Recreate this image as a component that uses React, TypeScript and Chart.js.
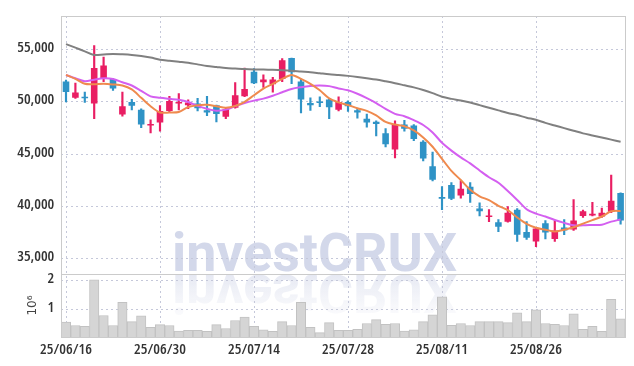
import { useEffect, useRef } from 'react';
import { Chart, registerables } from 'chart.js';

Chart.register(...registerables);

const dates = [
  '25/06/16','25/06/17','25/06/18','25/06/19','25/06/20','25/06/23','25/06/24','25/06/25','25/06/26','25/06/27',
  '25/06/30','25/07/01','25/07/02','25/07/03','25/07/04','25/07/07','25/07/08','25/07/09','25/07/10','25/07/11',
  '25/07/14','25/07/15','25/07/16','25/07/17','25/07/18','25/07/21','25/07/22','25/07/23','25/07/24','25/07/25',
  '25/07/28','25/07/29','25/07/30','25/07/31','25/08/01','25/08/04','25/08/05','25/08/06','25/08/07','25/08/08',
  '25/08/11','25/08/12','25/08/13','25/08/14','25/08/18','25/08/19','25/08/20','25/08/21','25/08/22','25/08/25',
  '25/08/26','25/08/27','25/08/28','25/08/29','25/09/01','25/09/02','25/09/03','25/09/04','25/09/05','25/09/08',
];

const opens = [
  51950, 50400, 50450, 49850, 52250, 52200, 48800, 50000, 49250, 47750,
  48050, 49150, 49850, 49700, 49850, 49200, 49700, 48600, 49450, 50550,
  52900, 51900, 51700, 52200, 54200, 51950, 49900, 50000, 50250, 49250,
  50000, 49200, 48400, 48100, 47000, 45450, 47850, 47750, 46200, 43850,
  40900, 42050, 41050, 41900, 39800, 39000, 38500, 38550, 39700, 37550,
  36650, 38400, 36900, 38000, 37800, 39100, 39150, 39050, 39500, 41300,
];
const closes = [
  50950, 50900, 50350, 53250, 53500, 51300, 49600, 49650, 47850, 47850,
  49150, 50100, 49950, 49950, 49400, 49000, 48850, 49300, 50650, 51250,
  51800, 52150, 52150, 54000, 52850, 50250, 49700, 49900, 49500, 50000,
  49600, 49000, 48050, 47900, 45950, 47850, 47450, 46450, 44600, 42550,
  40750, 40750, 41700, 41200, 39550, 39150, 38050, 39400, 37300, 37000,
  37900, 37500, 37700, 37700, 38650, 39550, 39300, 39400, 40550, 38650,
];
const highs = [
  52100, 51800, 50950, 55400, 54300, 52250, 50950, 50250, 49350, 48300,
  49650, 50550, 50800, 50200, 50350, 50550, 49700, 49400, 51850, 53250,
  53200, 52600, 52350, 54150, 54200, 52200, 50400, 50500, 50350, 50500,
  50100, 49400, 48850, 48200, 47450, 48200, 48250, 47850, 46300, 45200,
  41900, 42300, 42450, 42300, 40350, 39700, 38750, 40000, 39800, 38550,
  38000, 38650, 38650, 38750, 40650, 39650, 40400, 39850, 43000, 41300,
];
const lows = [
  50000, 50350, 49950, 48400, 51950, 51100, 48650, 49250, 47550, 47050,
  47200, 49050, 49250, 49350, 49150, 48700, 48100, 48400, 49400, 50500,
  51750, 51400, 50950, 51950, 51750, 48950, 49200, 49550, 48400, 49150,
  49100, 48450, 47600, 46750, 45700, 44650, 47200, 46300, 44350, 42450,
  39700, 40650, 40800, 40400, 39100, 38550, 37600, 38500, 36650, 36850,
  36150, 36900, 36650, 37300, 37700, 38950, 39100, 38950, 39400, 38300,
];

const ma5 = [
  52590, 52210, 51740, 51700, 51740, 51680, 51580, 51200, 50400, 49600,
  49000, 48990, 49040, 49520, 49700, 49740, 49600, 49460, 49620, 50020,
  50650, 51280, 51740, 52210, 52590, 52210, 51740, 51120, 50340, 49960,
  49710, 49400, 49150, 48710, 48090, 47840, 47680, 47280, 46600, 45720,
  44560, 43410, 42530, 41600, 40980, 40600, 40070, 39650, 38950, 38340,
  37960, 37780, 37600, 37780, 38010, 38360, 38690, 39040, 39540, 39580,
];
const ma20 = [
  52590, 52270, 51990, 52140, 52270, 52210, 51890, 51580, 51070, 50540,
  50400, 50300, 50210, 50000, 49630, 49360, 49170, 49270, 49600, 49900,
  50130, 50320, 50600, 50930, 51250, 51420, 51540, 51580, 51520, 51300,
  51120, 50790, 50370, 49900, 49340, 48870, 48640, 48260, 47800, 47090,
  46100, 45350, 44700, 44120, 43450, 42800, 42270, 41480, 40630, 39740,
  39320, 39040, 38710, 38430, 38200, 38200, 38230, 38260, 38550, 38760,
];
const ma60 = [
  55540, 55200, 54850, 54500, 54550, 54600, 54560, 54500, 54400, 54250,
  54050, 53950, 53850, 53750, 53600, 53450, 53350, 53250, 53200, 53150,
  53120, 53100, 53080, 53050, 53000, 52920, 52850, 52750, 52650, 52580,
  52500, 52400, 52280, 52150, 51980, 51800, 51600, 51400, 51150, 50850,
  50500, 50300, 50150, 49950, 49700, 49450, 49200, 48950, 48750, 48500,
  48300, 48000, 47750, 47500, 47250, 47000, 46800, 46600, 46400, 46200,
];

// volume in millions of shares
const volumes = [
  0.59, 0.47, 0.44, 2.02, 0.81, 0.47, 1.26, 0.60, 0.80, 0.41,
  0.50, 0.47, 0.28, 0.31, 0.31, 0.27, 0.50, 0.37, 0.64, 0.76,
  0.44, 0.32, 0.27, 0.60, 0.47, 1.26, 0.41, 0.23, 0.57, 0.31,
  0.31, 0.34, 0.54, 0.67, 0.51, 0.54, 0.28, 0.32, 0.60, 0.83,
  1.44, 0.48, 0.54, 0.47, 0.60, 0.60, 0.60, 0.57, 0.90, 0.60,
  1.00, 0.54, 0.51, 0.47, 0.87, 0.34, 0.44, 0.27, 1.36, 0.70,
];

const priceTicks = [35000, 40000, 45000, 50000, 55000];
const volumeTicks = [1, 2];
const labelEvery = 10;

const UP = '#e91e63';
const DOWN = '#2f93c6';
const GRID = '#c5c8da';
const FRAME = '#cbcbcb';
const TEXT = '#333333';
const DASH = [2, 3];
const TICK_FONT = { family: '"Open Sans", "Noto Sans", sans-serif', size: 15, weight: 'condensed 600' };

const framePlugin = {
  id: 'frameAndMark',
  beforeDraw(chart: any) {
    const { ctx } = chart;
    const text = 'investCRUX';
    const cx = 314.5;
    const base = 271;
    const targetW = 285;
    ctx.save();
    ctx.font = 'bold 54px Roboto, "Liberation Sans", sans-serif';
    ctx.textAlign = 'center';
    ctx.textBaseline = 'alphabetic';
    const w = ctx.measureText(text).width;
    const sx = targetW / w;
    ctx.save();
    ctx.translate(cx, base);
    ctx.scale(sx, 1);
    ctx.fillStyle = '#d3d8ea';
    ctx.fillText(text, 0, 0);
    ctx.restore();
    ctx.save();
    ctx.translate(cx, base + 4);
    ctx.scale(sx, -1);
    const g = ctx.createLinearGradient(0, 0, 0, -40);
    g.addColorStop(0, 'rgba(220,224,238,0.7)');
    g.addColorStop(1, 'rgba(234,236,244,0.25)');
    ctx.fillStyle = g;
    ctx.fillText(text, 0, 0);
    ctx.restore();
    ctx.restore();
  },
  afterDraw(chart: any) {
    const { ctx, chartArea } = chart;
    const sep = chart.scales.y.bottom;
    ctx.save();
    ctx.strokeStyle = FRAME;
    ctx.lineWidth = 1;
    ctx.strokeRect(Math.round(chartArea.left) + 0.5, Math.round(chartArea.top) + 0.5,
      Math.round(chartArea.right - chartArea.left), Math.round(chartArea.bottom - chartArea.top));
    ctx.beginPath();
    ctx.moveTo(chartArea.left, Math.round(sep) + 0.5);
    ctx.lineTo(chartArea.right, Math.round(sep) + 0.5);
    ctx.stroke();
    ctx.restore();
  },
};

export default function App() {
  const ref = useRef<HTMLCanvasElement | null>(null);

  useEffect(() => {
    if (!ref.current) return;
    const colors = opens.map((o, i) => (closes[i] >= o ? UP : DOWN));
    const chart = new Chart(ref.current, {
      type: 'bar',
      data: {
        labels: dates,
        datasets: [
          {
            type: 'line', label: 'MA5', data: ma5, yAxisID: 'y', borderColor: '#ef8a4e',
            borderWidth: 2, pointRadius: 0, tension: 0.3, order: 0,
          } as any,
          {
            type: 'line', label: 'MA20', data: ma20, yAxisID: 'y', borderColor: '#d45ff0',
            borderWidth: 2, pointRadius: 0, tension: 0.3, order: 0,
          } as any,
          {
            type: 'line', label: 'MA60', data: ma60, yAxisID: 'y', borderColor: '#808080',
            borderWidth: 2, pointRadius: 0, tension: 0.3, order: 0,
          } as any,
          {
            label: 'wick', data: lows.map((l, i) => [l, highs[i]]), yAxisID: 'y',
            backgroundColor: colors, barThickness: 1.5, grouped: false, order: 2,
          } as any,
          {
            label: 'body', data: opens.map((o, i) => [o, closes[i]]), yAxisID: 'y',
            backgroundColor: colors, barPercentage: 0.7, categoryPercentage: 1,
            grouped: false, minBarLength: 1.5, order: 1,
          } as any,
          {
            label: 'volume', data: volumes, yAxisID: 'yv',
            backgroundColor: '#d5d5d5', borderColor: '#c2c2c2', borderWidth: 1,
            barPercentage: 1, categoryPercentage: 1, grouped: false, order: 3,
          } as any,
        ],
      },
      options: {
        responsive: false,
        animation: false,
        devicePixelRatio: 1,
        events: [],
        layout: { padding: { left: 16.7, right: 8.7, top: 9, bottom: 0 } },
        plugins: { legend: { display: false }, tooltip: { enabled: false } },
        scales: {
          x: {
            type: 'category',
            offset: true,
            border: { display: false, dash: DASH },
            grid: { offset: false, color: GRID, drawTicks: false },
            ticks: {
              autoSkip: false, maxRotation: 0, minRotation: 0, padding: 3,
              color: TEXT, font: TICK_FONT,
              callback: (_v: any, i: number) => (i % labelEvery === 0 ? dates[i] : null),
            },
            afterFit: (s: any) => { s.height = 28.7; },
          } as any,
          yv: {
            type: 'linear', position: 'left', stack: 'main', stackWeight: 65, weight: 1,
            min: 0.07, max: 2.23,
            border: { display: false, dash: DASH },
            grid: { color: GRID, drawTicks: false },
            afterBuildTicks: (s: any) => { s.ticks = volumeTicks.map((v) => ({ value: v })); },
            ticks: { padding: 7, labelOffset: -2, color: TEXT, font: TICK_FONT, callback: (v: any) => String(v) },
            title: {
              display: true, text: '10⁶', color: '#444',
              font: { family: '"DejaVu Sans", sans-serif', size: 12 },
              padding: { top: 9, bottom: 0 },
            },
            afterFit: (s: any) => { s.width = 44.6; },
          } as any,
          y: {
            type: 'linear', position: 'left', stack: 'main', stackWeight: 263.3, weight: 2,
            min: 33570, max: 58230,
            border: { display: false, dash: DASH },
            grid: { color: GRID, drawTicks: false },
            afterBuildTicks: (s: any) => { s.ticks = priceTicks.map((v) => ({ value: v })); },
            ticks: {
              padding: 7, labelOffset: -2, color: TEXT, font: TICK_FONT,
              callback: (v: any) => Number(v).toLocaleString('en-US'),
            },
            afterFit: (s: any) => { s.width = 44.6; },
          } as any,
        },
      },
      plugins: [framePlugin],
    });
    return () => chart.destroy();
  }, []);

  return (
    <div style={{ position: 'fixed', left: 0, top: 0, width: 634, height: 366, background: '#fff' }}>
      <canvas ref={ref} width={634} height={366} style={{ width: 634, height: 366 }} />
    </div>
  );
}
